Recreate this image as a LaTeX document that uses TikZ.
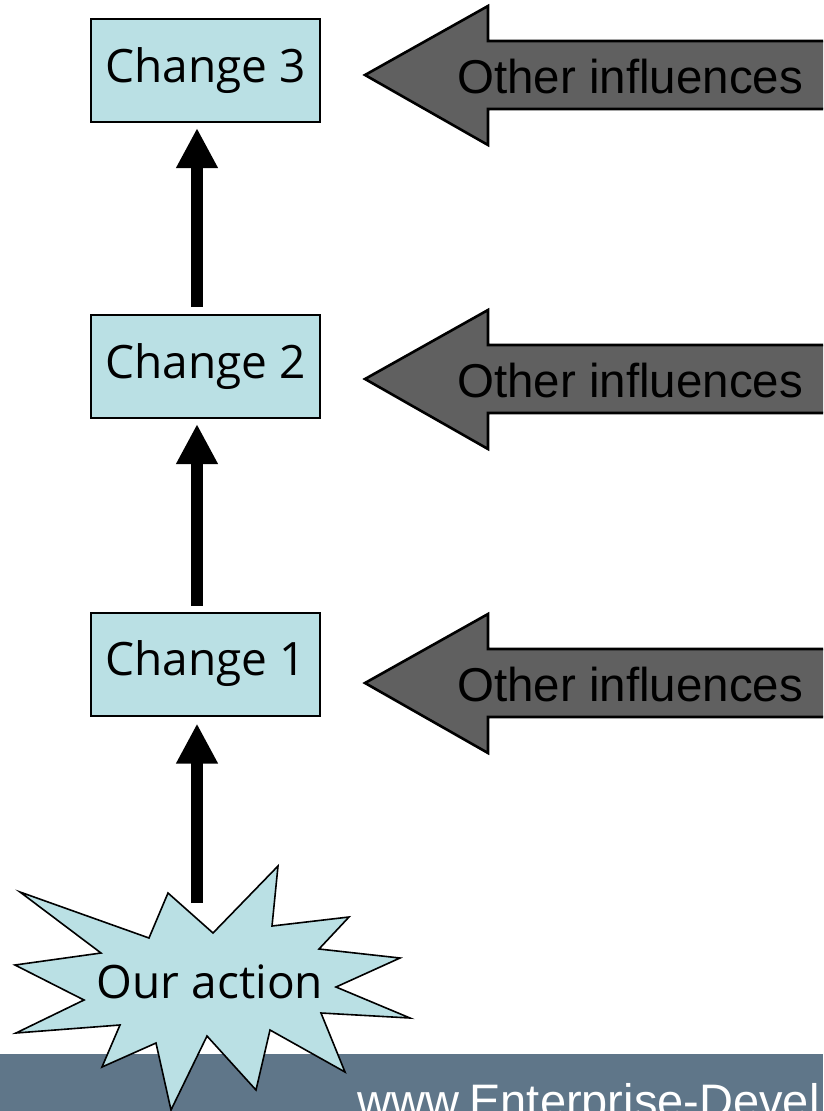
\documentclass[tikz,border=0pt]{standalone}
\usepackage{fontspec}
\usetikzlibrary{arrows.meta}
\newfontfamily\comicfont{Open Sans}
\newfontfamily\arialfont{Liberation Sans}
\definecolor{boxcyan}{HTML}{BAE0E4}
\definecolor{infgray}{HTML}{606060}
\definecolor{bandblue}{HTML}{5F7689}
\begin{document}
\begin{tikzpicture}[x=1pt,y=-1pt,
  changebox/.style={draw=black,line width=2pt,fill=boxcyan,minimum width=229pt,minimum height=103pt,inner sep=0pt,font=\comicfont\fontsize{46}{50}\selectfont},
  uparrow/.style={line width=12pt,-{Triangle[width=39pt,length=40pt]}},
  infarrow/.style={draw=black,line width=2.6pt,fill=infgray,line join=miter},
  inftext/.style={anchor=base west,inner sep=0pt,font=\arialfont\fontsize{47.5}{52}\selectfont,text=black},
  burst/.style={draw=black,line width=1.6pt,fill=boxcyan,line join=miter}
]
\useasboundingbox (0,0) rectangle (823,1111);
\clip (0,0) rectangle (823,1111);
\fill[white] (0,0) rectangle (823,1111);
% footer band
\fill[bandblue] (0,1054) rectangle (823,1111);
\node[anchor=base west,inner sep=0pt,text=white,font=\arialfont\fontsize{47}{52}\selectfont] (url) at (357,1117) {www.Enterprise-Devel};
% boxes
\node[changebox] (c3) at (205.5,70.5) {Change 3};
\node[changebox] (c2) at (205.5,366.5) {Change 2};
\node[changebox] (c1) at (205.5,664) {Change 1};
% starburst
\draw[burst] (278,866) -- (272,926) -- (349,917) -- (319,949) -- (400,958) -- (336,987) -- (410,1018) -- (321,1013) -- (345,1072) -- (270,1030) -- (256,1090) -- (207,1036) -- (171,1110) -- (156,1043) -- (102,1067) -- (120,1025) -- (16,1033) -- (84,1000) -- (15,965) -- (101,953) -- (20,892) -- (149,938) -- (168,893) -- (213,933) -- cycle;
\node[anchor=base,inner sep=0pt,font=\comicfont\fontsize{46}{50}\selectfont] (act) at (210,998) {Our action};
\coordinate (ax) at (197,0);
\coordinate (acttop) at (197,903);
% up arrows
\draw[uparrow,shorten >=7pt] (acttop) -- (c1.south -| ax);
\draw[uparrow,shorten <=6pt,shorten >=5pt] (c1.north -| ax) -- (c2.south -| ax);
\draw[uparrow,shorten <=7pt,shorten >=5pt] (c2.north -| ax) -- (c3.south -| ax);
% other influences arrows
\foreach \c/\n in {75/i3,379/i2,683/i1}{
  \draw[infarrow] (365,\c) -- (488,\c-69) -- (488,\c-34) -- (830,\c-34) -- (830,\c+34) -- (488,\c+34) -- (488,\c+70) -- cycle;
  \node[inftext] (\n) at (457,\c+18) {Other influences};
}
\end{tikzpicture}
\end{document}
